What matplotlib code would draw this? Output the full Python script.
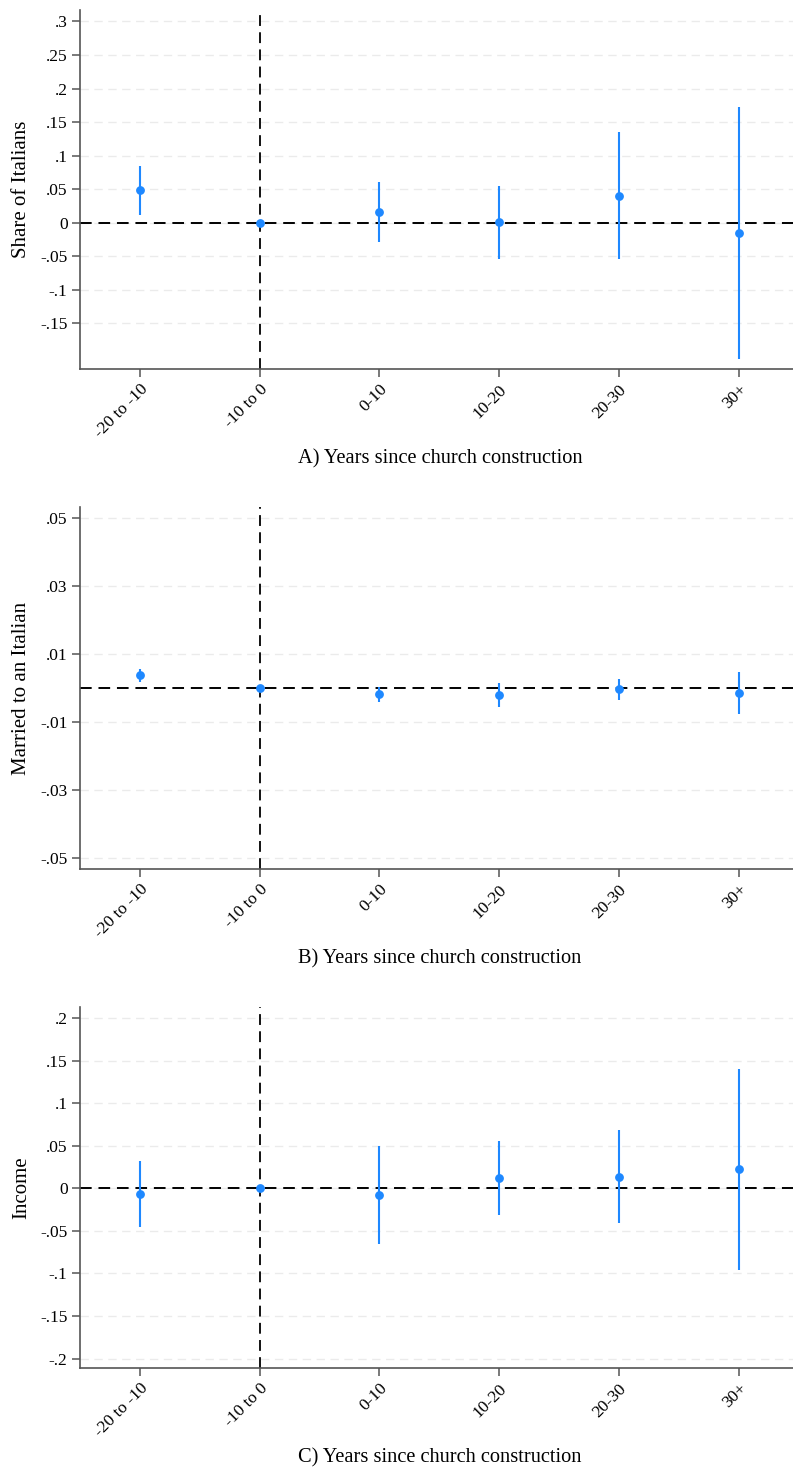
import numpy as np
import matplotlib
matplotlib.use('Agg')
import matplotlib.pyplot as plt
from matplotlib.transforms import ScaledTranslation

plt.rcParams['font.family'] = ['Liberation Serif', 'DejaVu Serif']

# event-study bins
bins = ['-20 to -10', '-10 to 0', '0-10', '10-20', '20-30', '30+']

# A) share of Italians
coef_a = [0.049, 0.0, 0.016, 0.0005, 0.040, -0.015]
lo_a = [0.012, 0.0, -0.028, -0.054, -0.054, -0.203]
hi_a = [0.085, 0.0, 0.060, 0.055, 0.135, 0.172]

# B) married to an Italian
coef_b = [0.0038, 0.0, -0.0017, -0.0020, -0.0003, -0.0014]
lo_b = [0.0019, 0.0, -0.0039, -0.0054, -0.0034, -0.0075]
hi_b = [0.0057, 0.0, 0.0003, 0.0016, 0.0027, 0.0047]

# C) income
coef_c = [-0.0063, 0.0, -0.0079, 0.0121, 0.0133, 0.0224]
lo_c = [-0.045, 0.0, -0.065, -0.0314, -0.041, -0.0958]
hi_c = [0.0318, 0.0, 0.0498, 0.0556, 0.0682, 0.1404]

yticks_a = [0.3, 0.25, 0.2, 0.15, 0.1, 0.05, 0, -0.05, -0.1, -0.15]
ylabels_a = ['.3', '.25', '.2', '.15', '.1', '.05', '0', '-.05', '-.1', '-.15']
yticks_b = [0.05, 0.03, 0.01, -0.01, -0.03, -0.05]
ylabels_b = ['.05', '.03', '.01', '-.01', '-.03', '-.05']
yticks_c = [0.2, 0.15, 0.1, 0.05, 0, -0.05, -0.1, -0.15, -0.2]
ylabels_c = ['.2', '.15', '.1', '.05', '0', '-.05', '-.1', '-.15', '-.2']

W, H = 793, 1467
fig = plt.figure(figsize=(W / 100, H / 100), dpi=100)
blue = '#1e88ff'
spine = '#555555'

panels = [
    (coef_a, lo_a, hi_a, yticks_a, ylabels_a, (-0.218, 0.317),
     'Share of Italians', 'A) Years since church construction', 10, 369),
    (coef_b, lo_b, hi_b, yticks_b, ylabels_b, (-0.0531, 0.0533),
     'Married to an Italian', 'B) Years since church construction', 507, 869),
    (coef_c, lo_c, hi_c, yticks_c, ylabels_c, (-0.211, 0.213),
     'Income', 'C) Years since church construction', 1007, 1368),
]

x = np.arange(1, len(bins) + 1)
shift = ScaledTranslation(-4 / 100, 2 / 100, fig.dpi_scale_trans)
for coef, lo, hi, yt, yl, ylim, ylab, xlab, top, bot in panels:
    ax = fig.add_axes([80 / W, (H - bot) / H, (W - 80) / W, (bot - top) / H])
    coef = np.array(coef)
    err = np.vstack([coef - np.array(lo), np.array(hi) - coef])

    ax.set_yticks(yt)
    ax.set_yticklabels(yl)
    for v in yt:
        ax.axhline(v, color='#ebebeb', lw=1, ls=(0, (6, 4)), zorder=0)
    ax.axhline(0, color='black', lw=1.4, ls=(0, (6, 3.5)), zorder=1)
    ax.axvline(2, color='black', lw=1.3, ls=(0, (6, 3.5)), zorder=1)

    ax.errorbar(x, coef, yerr=err, fmt='o', color=blue, ms=5.3,
                elinewidth=1.5, capsize=0, zorder=3)

    ax.set_xlim(0.5, 6.455)
    ax.set_ylim(*ylim)
    ax.set_xticks(x)
    ax.set_xticklabels(bins, rotation=45, ha='right', rotation_mode='anchor')
    for lab in ax.get_xticklabels():
        lab.set_transform(lab.get_transform() + shift)

    for s in ['top', 'right']:
        ax.spines[s].set_visible(False)
    for s in ['left', 'bottom']:
        ax.spines[s].set_color(spine)
        ax.spines[s].set_linewidth(1.2)
    ax.tick_params(axis='both', colors=spine, labelcolor='black',
                   labelsize=12.5, length=6, width=1.1, pad=3)

    ax.set_ylabel(ylab, fontsize=15)
    ax.yaxis.set_label_coords(-49 / 713, 0.5)
    ax.set_xlabel(xlab, fontsize=14.7)
    ax.xaxis.set_label_coords(0.505, -(449 - 369) / 359)

fig.savefig('out.png', dpi=100)
